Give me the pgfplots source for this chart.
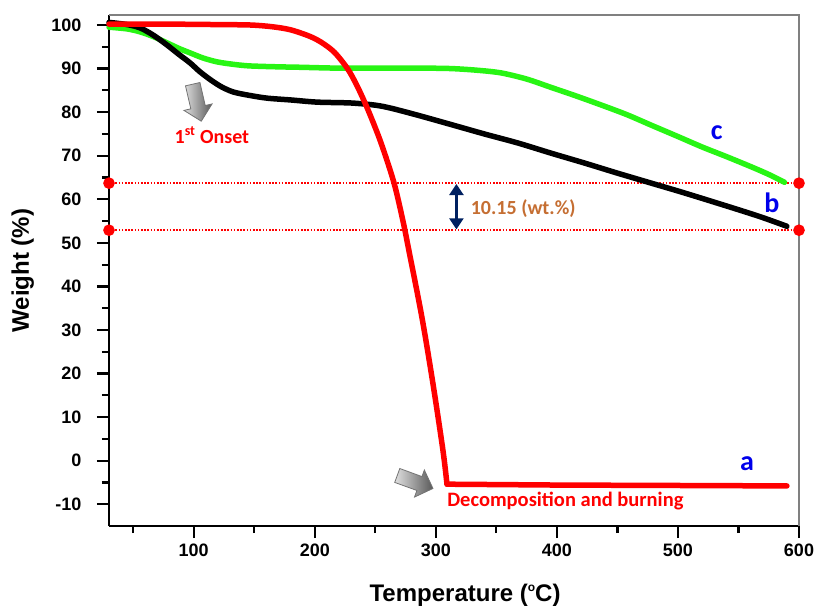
\documentclass[border=0pt]{standalone}
\usepackage{pgfplots}
\pgfplotsset{compat=1.18}
\usepackage{fontspec}
\setmainfont{Liberation Sans}
\newfontfamily\annfont{Carlito}
\usetikzlibrary{arrows.meta,shapes.arrows}

\definecolor{tgared}{RGB}{255,0,0}
\definecolor{tgagreen}{RGB}{40,245,20}
\definecolor{lblblue}{RGB}{0,0,235}
\definecolor{navyarr}{RGB}{0,32,96}
\definecolor{wtorange}{RGB}{197,110,50}

\begin{document}
\begin{tikzpicture}
\path[use as bounding box] (-109pt,-80pt) rectangle (707pt,526pt);
\begin{axis}[
    width=690pt, height=511pt, scale only axis,
    xmin=30, xmax=600, ymin=-15, ymax=102.3,
    axis x line*=bottom, axis y line*=left,
    axis line style={black, line width=2.5pt, -},
    tick align=outside,
    xtick={100,200,...,600},
    ytick={-10,0,...,100},
    minor x tick num=1, minor y tick num=1,
    extra x ticks={50}, extra x tick labels={},
    extra x tick style={major tick length=7pt},
    major tick length=12pt, minor tick length=7pt,
    every tick/.append style={black, line width=2.2pt},
    ticklabel style={font=\bfseries\fontsize{18}{18}\selectfont},
    yticklabel style={xshift=-12pt},
    xticklabel style={yshift=-2pt},
    /pgf/number format/assume math mode=true,
    xlabel={\bfseries Temperature (\raisebox{0.75ex}{\fontsize{12}{12}\selectfont o}C)},
    ylabel={\bfseries Weight (\%)},
    label style={font=\bfseries\fontsize{24}{24}\selectfont},
    xlabel style={at={(axis description cs:0.516,-0.135)}, anchor=center},
    ylabel style={at={(axis description cs:-0.125,0.5)}, anchor=center},
    clip=false,
]
% frame top and right
\draw[gray, line width=1.2pt] (rel axis cs:0,1) -- (rel axis cs:1,1) -- (rel axis cs:1,0);
% major ticks, 12pt long, drawn in axis units
\pgfplotsinvokeforeach{100,200,300,400,500,600}{
  \draw[black, line width=2.2pt] (axis cs:#1,-15) -- (axis cs:#1,-17.75);
}
\pgfplotsinvokeforeach{-10,0,10,20,30,40,50,60,70,80,90,100}{
  \draw[black, line width=2.2pt] (axis cs:30,#1) -- (axis cs:20.1,#1);
}

% reference lines
\addplot[tgared, line width=1.6pt, dash pattern=on 1.6pt off 1.6pt, mark=*, mark size=5pt, mark options={solid, fill=tgared, draw=tgared}]
  coordinates {(30,63.7) (600,63.7)};
\addplot[tgared, line width=1.6pt, dash pattern=on 1.6pt off 1.6pt, mark=*, mark size=5pt, mark options={solid, fill=tgared, draw=tgared}]
  coordinates {(30,52.9) (600,52.9)};

% c
\addplot[tgagreen, line width=5.5pt, smooth, line cap=round] coordinates {
(30,99.5) (45,99.1) (56,98.4) (67,97.3) (78,95.9) (88,94.6) (97,93.6) (108,92.4)
(120,91.5) (135,90.9) (147,90.6) (170,90.4) (188,90.3) (220,90.1) (260,90.1)
(290,90.1) (313,90) (335,89.6) (354,89) (375,87.6) (395,85.7) (415,83.8)
(437,81.6) (458,79.4) (478,77) (500,74.4) (520,72) (540,69.8) (561,67.4)
(575,65.7) (588,63.9)};

% b
\addplot[black, line width=5.5pt, smooth, line cap=round] coordinates {
(30,100.6) (45,100.1) (56,99.3) (67,97.6) (78,95.4) (88,93.2) (97,91.3) (105,89.3)
(114,87.4) (123,85.8) (133,84.6) (147,83.8) (161,83.2) (180,82.8) (202,82.3)
(230,82.1) (250,81.6) (263,80.9) (285,79.3) (312,77.2) (340,75) (368,72.9)
(395,70.6) (423,68.3) (450,66) (478,63.7) (500,61.9) (520,60.2) (550,57.6)
(570,55.8) (590,53.8)};

% a
\addplot[tgared, line width=5.5pt, smooth, line cap=round] coordinates {
(30,100.2) (80,100.2) (120,100.1) (147,100) (165,99.6) (180,98.9) (195,97.5)
(205,96.1) (216,93.8) (227,90) (235,86) (244,80.5) (254.5,73.1) (265.3,63.9)
(272.7,55.2) (277.7,48.3) (288.5,32.9) (297.6,17.7) (305.9,2.3) (309.2,-5.4)};
\addplot[tgared, line width=5.5pt, line cap=round, line join=round] coordinates {
(309.2,-5.4) (400,-5.6) (500,-5.7) (590,-5.8)};

% annotations
\draw[navyarr, line width=2.5pt, {Triangle[width=14pt,length=11pt]}-{Triangle[width=14pt,length=11pt]}]
  (axis cs:317,63.5) -- (axis cs:317,53.1);
\node[anchor=west, text=wtorange, font=\annfont\bfseries\fontsize{20}{20}\selectfont] at (axis cs:326,57.9) {10.15 (wt.\%)};

\node[text=tgared, font=\annfont\bfseries\fontsize{20}{20}\selectfont] at (axis cs:115,74.7) {1\textsuperscript{st} Onset};
\node[text=tgared, font=\annfont\bfseries\fontsize{20.5}{20.5}\selectfont] at (axis cs:407,-9.2) {Decomposition and burning};

\node[text=lblblue, font=\annfont\bfseries\fontsize{28}{28}\selectfont] at (axis cs:532,75.2) {c};
\node[text=lblblue, font=\annfont\bfseries\fontsize{28}{28}\selectfont] at (axis cs:577.6,59.3) {b};
\node[text=lblblue, font=\annfont\bfseries\fontsize{28}{28}\selectfont] at (axis cs:557,-0.7) {a};

\node[single arrow, draw=black!55, line width=0.8pt, left color=gray!25, right color=gray!70!black,
      inner xsep=0pt, inner ysep=7pt, minimum height=38pt, single arrow head extend=7pt, rotate=-77]
  at (axis cs:102,83) {};
\node[single arrow, draw=black!55, line width=0.8pt, left color=gray!25, right color=gray!70!black,
      inner xsep=0pt, inner ysep=7pt, minimum height=38pt, single arrow head extend=7pt, rotate=-20]
  at (axis cs:280,-4.6) {};
\end{axis}
\end{tikzpicture}
\end{document}
